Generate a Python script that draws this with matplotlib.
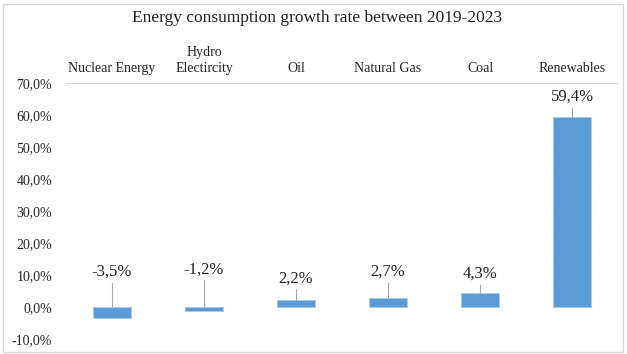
import matplotlib
matplotlib.use('Agg')
import matplotlib.pyplot as plt
from matplotlib.patches import Rectangle
from matplotlib.ticker import FuncFormatter

sources = ['Nuclear Energy', 'Hydro\nElectircity', 'Oil', 'Natural Gas', 'Coal', 'Renewables']
growth = [-3.5, -1.2, 2.2, 2.7, 4.3, 59.4]
# height (in %) where each value label is placed
label_y = [10.9, 11.6, 8.8, 10.9, 10.3, 65.6]

serif = 'Liberation Serif'

fig = plt.figure(figsize=(6.27, 3.54), dpi=100)
ax = fig.add_axes([66 / 627, 1 - 339 / 354, (618 - 66) / 627, (339 - 83) / 354])

x = list(range(len(sources)))
ax.bar(x, growth, width=0.41, color='#5B9BD5', edgecolor='#A9C8E8',
       linestyle='--', linewidth=0.8, zorder=2)

# value labels with leader lines
for i, v in enumerate(growth):
    ly = label_y[i]
    ax.plot([i, i], [ly - 3.3, max(v, 0)], color='#A6A6A6', lw=0.8, zorder=1)
    ax.text(i, ly, f'{v:.1f}%'.replace('.', ','), ha='center', va='center',
            fontsize=12, family=serif, color='#222222')

ax.set_xlim(-0.5, 5.5)
ax.set_ylim(-10, 70)
ax.set_yticks(range(-10, 71, 10))
ax.yaxis.set_major_formatter(FuncFormatter(lambda v, p: f'{v:.1f}%'.replace('.', ',')))
ax.axhline(70, color='#D9D9D9', lw=1, zorder=0)

ax.xaxis.tick_top()
ax.set_xticks(x)
ax.set_xticklabels(sources, family=serif, fontsize=10, color='#222222', linespacing=1.25)
ax.tick_params(axis='x', length=0, pad=6)
ax.tick_params(axis='y', length=0, pad=10)
for lab in ax.get_yticklabels():
    lab.set_family(serif)
    lab.set_fontsize(10)
    lab.set_color('#222222')

for s in ax.spines.values():
    s.set_visible(False)

fig.text(0.506, 1 - 18 / 354, 'Energy consumption growth rate between 2019-2023',
         ha='center', va='center', fontsize=12.5, family=serif, color='#222222')

fig.patches.append(Rectangle((0.005, 0.006), 0.988, 0.984, transform=fig.transFigure,
                             fill=False, edgecolor='#D9D9D9', lw=1))

fig.savefig('out.png', dpi=100)
